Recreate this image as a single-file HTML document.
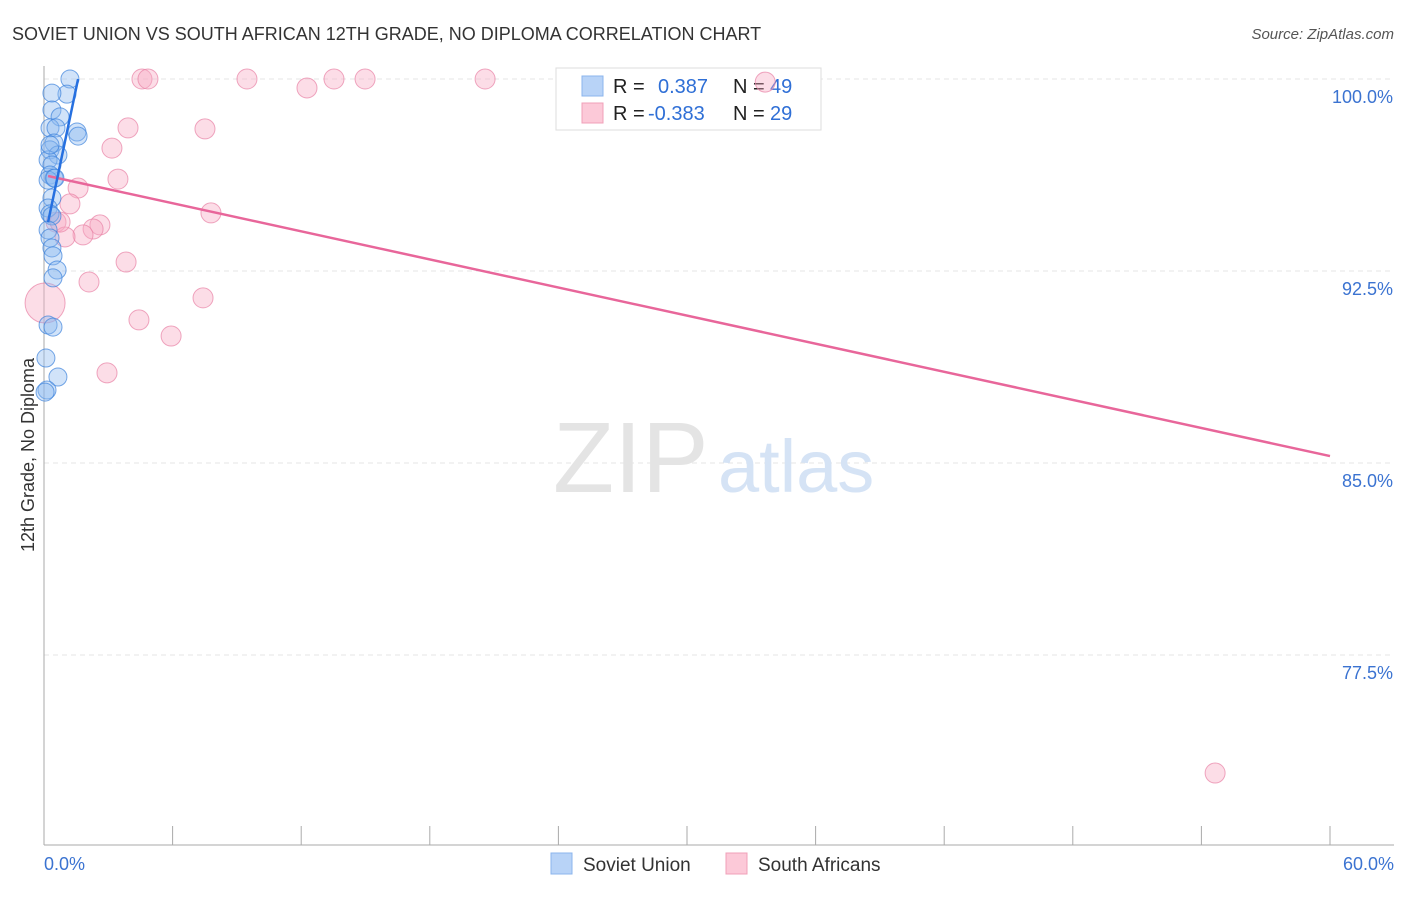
<!DOCTYPE html>
<html><head><meta charset="utf-8"><style>
body{margin:0;background:#fff;font-family:"Liberation Sans",sans-serif;}
svg text{font-family:"Liberation Sans",sans-serif;}
</style></head><body>
<svg id="c" width="1406" height="892" xmlns="http://www.w3.org/2000/svg">
<text x="12" y="40" font-size="18" fill="#333">SOVIET UNION VS SOUTH AFRICAN 12TH GRADE, NO DIPLOMA CORRELATION CHART</text>
<text x="1394" y="39" font-size="15" fill="#555" text-anchor="end" font-style="italic">Source: ZipAtlas.com</text>
<text x="0" y="0" font-size="18" fill="#333" text-anchor="middle" transform="translate(34,455) rotate(-90)">12th Grade, No Diploma</text>
<g id="grid"></g>
<text x="553" y="492" font-size="100" fill="#e4e4e4" font-family="Liberation Serif">ZIP</text>
<text x="718" y="492" font-size="74" fill="#d5e3f5">atlas</text>
<g>
<rect x="556" y="68" width="265" height="62" fill="#fff" stroke="#ddd"/>
<rect x="582" y="76" width="21" height="20" fill="#b8d3f7" stroke="#8bb4ec"/>
<rect x="582" y="103" width="21" height="20" fill="#fcc9d8" stroke="#f0a0b8"/>
<text x="613" y="93" font-size="20" fill="#222">R = </text><text x="658" y="93" font-size="20" fill="#2f6fd6">0.387</text>
<text x="733" y="93" font-size="20" fill="#222">N = </text><text x="770" y="93" font-size="20" fill="#2f6fd6">49</text>
<text x="613" y="120" font-size="20" fill="#222">R = </text><text x="648" y="120" font-size="20" fill="#2f6fd6">-0.383</text>
<text x="733" y="120" font-size="20" fill="#222">N = </text><text x="770" y="120" font-size="20" fill="#2f6fd6">29</text>
</g>
<g id="marks"></g>
<g>
<rect x="551" y="853" width="21" height="21" fill="#b8d3f7" stroke="#8bb4ec"/>
<text x="583" y="871" font-size="19" fill="#333">Soviet Union</text>
<rect x="726" y="853" width="21" height="21" fill="#fcc9d8" stroke="#f0a0b8"/>
<text x="758" y="871" font-size="19" fill="#333">South Africans</text>
</g>
</svg>
<script>
const yTicks=[100,92.5,85,77.5];
const yTickLabels=["100.0%","92.5%","85.0%","77.5%"];
const xTickLabels=["0.0%","60.0%"];
const blueX=[1.21,1.07,0.37,0.37,0.75,0.28,0.56,1.54,1.59,0.47,0.28,0.65,0.19,0.37,0.28,0.47,0.19,0.37,0.19,0.28,0.37,0.19,0.28,0.37,0.42,0.61,0.42,0.19,0.42,0.09,0.65,0.14,0.05,0.28,0.51];
const blueY=[100,99.41,99.45,98.79,98.52,98.09,98.09,97.93,97.77,97.5,97.23,97.03,96.84,96.64,96.25,96.13,96.05,95.35,94.96,94.73,94.65,94.1,93.79,93.4,93.09,92.54,92.23,90.39,90.31,89.1,88.36,87.85,87.77,97.42,96.13];
const pinkX=[4.57,4.85,9.47,13.53,14.98,20.58,33.65,12.27,3.92,7.51,3.17,3.45,1.59,1.21,7.79,0.56,2.61,2.29,1.82,0.98,3.83,2.1,7.42,4.43,5.93,2.94,54.64,0.05,0.75];
const pinkY=[100,100,100,100,100,100,99.88,99.65,98.09,98.05,97.3,96.09,95.74,95.12,94.77,94.41,94.3,94.14,93.91,93.83,92.85,92.07,91.45,90.59,89.96,88.52,72.89,91.25,94.41];
const blueLine=[[0.19,94.41],[1.59,100]];
const pinkLine=[[0.19,96.21],[60,85.27]];
const X=v=>44+v*1286/60, Y=v=>79+(100-v)*25.6;
const NS="http://www.w3.org/2000/svg";
const g=document.getElementById('grid'), m=document.getElementById('marks');
function mk(tag,attrs,parent){const e=document.createElementNS(NS,tag);for(const k in attrs)e.setAttribute(k,attrs[k]);parent.appendChild(e);return e;}
yTicks.forEach((t,i)=>{
 const l=mk('line',{x1:44,x2:1394,y1:Y(t),y2:Y(t),stroke:'#e6e6e6','stroke-dasharray':'5,4'},g);
 
 
 const tx=mk('text',{x:1393,y:Y(t)+24,'font-size':18,fill:'#3b73d1','text-anchor':'end'},g);tx.textContent=yTickLabels[i];
 
 
});
const ax=mk('line',{x1:44,x2:44,y1:66,y2:845,stroke:'#aaa'},g);


const bx=mk('line',{x1:44,x2:1394,y1:845,y2:845,stroke:'#aaa'},g);


for(let i=0;i<=10;i++){const v=i*6;const t=mk('line',{x1:X(v),x2:X(v),y1:826,y2:845,stroke:'#aaa'},g);
 
 }
[[0,'start',44],[60,'end',1394]].forEach((a,i)=>{const t=mk('text',{x:a[2],y:870,'font-size':18,fill:'#3b73d1','text-anchor':a[1]},g);t.textContent=xTickLabels[i];
 
 });
pinkX.forEach((x,i)=>{const r=i==27?20:10;const c=mk('circle',{cx:X(x),cy:Y(pinkY[i]),r:r,fill:'rgba(248,170,195,0.4)',stroke:'rgba(232,130,165,0.7)','stroke-width':1},m);
 
 });
blueX.forEach((x,i)=>{const c=mk('circle',{cx:X(x),cy:Y(blueY[i]),r:9,fill:'rgba(140,185,240,0.4)',stroke:'rgba(60,130,220,0.7)','stroke-width':1},m);
 
 });
const pl=mk('line',{x1:X(pinkLine[0][0]),y1:Y(pinkLine[0][1]),x2:X(pinkLine[1][0]),y2:Y(pinkLine[1][1]),stroke:'#e8669a','stroke-width':2.5},m);


const bl=mk('line',{x1:X(blueLine[0][0]),y1:Y(blueLine[0][1]),x2:X(blueLine[1][0]),y2:Y(blueLine[1][1]),stroke:'#2670e0','stroke-width':2.5},m);


</script>
</body></html>
